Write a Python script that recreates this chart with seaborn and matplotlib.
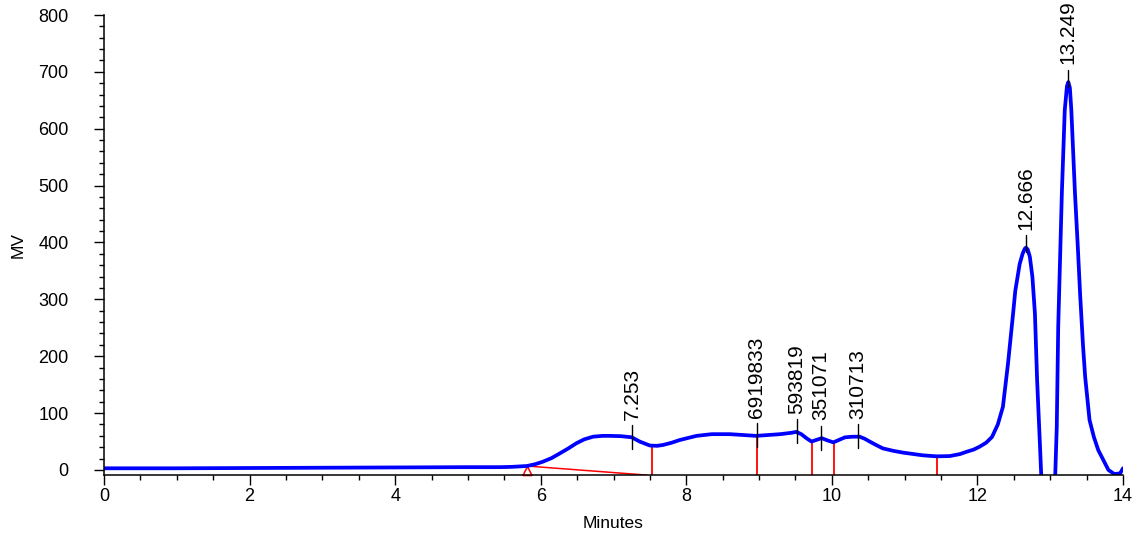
import numpy as np
import pandas as pd
import matplotlib
matplotlib.use('Agg')
import matplotlib.pyplot as plt
from matplotlib.ticker import MultipleLocator
import seaborn as sns

sns.set_style('white')
plt.rcParams['font.family'] = ['Liberation Sans', 'DejaVu Sans']
plt.rcParams['text.color'] = 'black'
plt.rcParams['axes.labelcolor'] = 'black'
plt.rcParams['xtick.color'] = 'black'
plt.rcParams['ytick.color'] = 'black'

# chromatogram trace (minutes, mV)
time = [0.0, 1.0, 2.0, 3.0, 4.0, 5.0, 5.44, 5.6, 5.81, 5.92, 6.03, 6.15, 6.26,
        6.38, 6.49, 6.6, 6.72, 6.85, 6.95, 7.1, 7.25, 7.36, 7.5, 7.6, 7.68,
        7.8, 7.91, 8.14, 8.35, 8.6, 8.96, 9.29, 9.45, 9.51, 9.58, 9.65, 9.72,
        9.79, 9.86, 9.94, 10.02, 10.1, 10.18, 10.28, 10.38, 10.45, 10.52,
        10.6, 10.7, 10.85, 10.98, 11.25, 11.44, 11.62, 11.76, 11.85, 11.95,
        12.03, 12.12, 12.2, 12.28, 12.35, 12.42, 12.49, 12.52, 12.56, 12.58,
        12.62, 12.65, 12.666, 12.69, 12.72, 12.755, 12.79, 12.82, 12.86, 12.9,
        13.05, 13.07, 13.09, 13.11, 13.16, 13.2, 13.23, 13.249, 13.27, 13.29,
        13.34, 13.38, 13.41, 13.45, 13.48, 13.54, 13.6, 13.66, 13.72, 13.8,
        13.88, 13.96, 14.0]
mv = [3, 3, 3.5, 4, 4.5, 5, 5, 5.5, 7, 10, 14.6, 21, 29,
      38, 47, 54, 58.6, 60, 60, 59.5, 57.5, 50, 43, 42.5, 44,
      48, 52.7, 60, 63, 63, 60, 63, 65.5, 67, 63, 56, 50,
      53, 56, 52, 48.6, 53, 57.4, 58.5, 58.6, 55, 50,
      44.5, 38, 33.5, 30.5, 25.8, 24, 24.5, 28, 32, 36,
      41, 48, 58, 80, 111, 187, 275, 315, 346, 362,
      380, 389, 391, 388, 375, 340, 275, 158, 41, -80,
      -80, -5, 76, 252, 487, 633, 675, 682, 672, 633,
      487, 390, 311, 220, 164, 88, 58, 35, 20, 0,
      -7, -6, 3]

# annotated peaks
peak_times = [7.253, 8.97, 9.52, 9.85, 10.36, 12.666, 13.249]
peak_heights = [57, 60, 67, 56, 58, 391, 682]
peak_labels = ['7.253', '6919833', '593819', '351071', '310713', '12.666', '13.249']

# integration drop lines and baseline
drop_times = [7.53, 8.97, 9.73, 10.03, 11.44]
drop_heights = [43, 60, 50, 49, 24]
baseline_t = [5.81, 7.46]
baseline_mv = [7, -9]

df = pd.DataFrame({'time': time, 'mv': mv})

fig = plt.figure(figsize=(11.39, 5.37), dpi=100)
ax = fig.add_axes([104 / 1139, 1 - 475 / 537, 1019 / 1139, 460 / 537])

ax.set_xlim(0, 14)
ax.set_ylim(-8.8, 800)
ymin = ax.get_ylim()[0]

# baseline + drop lines
ax.plot(baseline_t, baseline_mv, color='red', lw=1.1)
ax.plot(baseline_t[0], baseline_mv[0], marker=[(0, 0), (-1, -2), (1, -2), (0, 0)],
        markersize=13, mfc='none', mec='red', mew=1.1, clip_on=False)
ax.vlines(drop_times, ymin, drop_heights, color='red', lw=1.3)

sns.lineplot(data=df, x='time', y='mv', color='#0000ff', lw=2.7, ax=ax)

for t, h, lab in zip(peak_times, peak_heights, peak_labels):
    lo = 20 if h < 200 else 8
    ax.plot([t, t], [h - lo, h + 22], color='black', lw=1)
    ax.annotate(lab, (t, h + 22), xytext=(0, 4), textcoords='offset points',
                rotation=90, ha='center', va='bottom', fontsize=15)

sns.despine(ax=ax)
for s in ['left', 'bottom']:
    ax.spines[s].set_color('black')
    ax.spines[s].set_linewidth(1.1)

ax.set_xticks(range(0, 15, 2))
ax.xaxis.set_minor_locator(MultipleLocator(0.5))
ax.yaxis.set_major_locator(MultipleLocator(100))
ax.yaxis.set_minor_locator(MultipleLocator(20))
ax.tick_params(axis='x', which='major', direction='out', length=7.5, width=1, pad=2,
               labelsize=13, bottom=True)
ax.tick_params(axis='x', which='minor', direction='out', length=3.8, width=1, bottom=True)
ax.tick_params(axis='y', which='major', direction='out', length=7.5, width=1, pad=18,
               labelsize=13, left=True)
ax.tick_params(axis='y', which='minor', direction='out', length=3.8, width=1, left=True)

ax.set_xlabel('Minutes', fontsize=12.5)
ax.set_ylabel('MV', fontsize=12.5)
ax.xaxis.set_label_coords(0.5, -(523 - 475) / 460)
ax.xaxis.label.set_va('center')
ax.yaxis.set_label_coords(-(104 - 18) / 1019, 0.5)
ax.yaxis.label.set_va('center')

fig.savefig('out.png', dpi=100)
